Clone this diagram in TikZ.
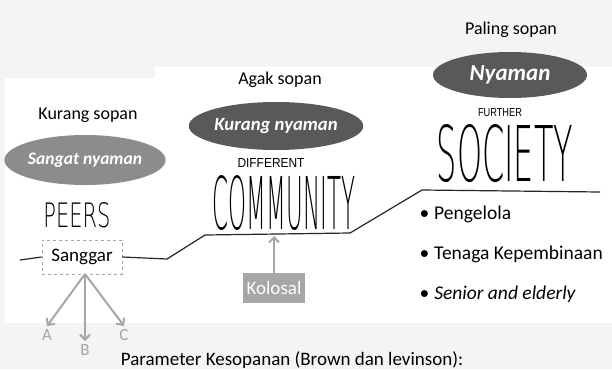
\documentclass[tikz,border=0pt]{standalone}
\usepackage{fontspec}
\setmainfont{Carlito}
\IfFontExistsTF{DejaVuSans-ExtraLight.ttf}
  {\newfontfamily\handfont{DejaVuSans-ExtraLight.ttf}}
  {\IfFontExistsTF{lmmonolt10-regular.otf}
    {\newfontfamily\handfont{lmmonolt10-regular.otf}}
    {\newfontfamily\handfont{Liberation Sans}}}
\newfontfamily\smallhand{Liberation Sans}
\usetikzlibrary{shapes.geometric,arrows.meta}
\definecolor{paper}{HTML}{F4F4F4}
\definecolor{softgray}{HTML}{8C8C8C}
\definecolor{darkgray}{HTML}{595959}
\definecolor{lightgray}{HTML}{A6A6A6}
\newcommand{\hand}[3]{\resizebox{#1pt}{#2pt}{\handfont #3}}
\newcommand{\tinyhand}[3]{\resizebox{#1pt}{#2pt}{\smallhand #3}}
\begin{document}
\begin{tikzpicture}
    [x=1pt,y=-1pt,
    mood/.style={ellipse,inner sep=0pt,text=white},
    level/.style={font=\fontsize{18}{20}\selectfont},
    item/.style={anchor=west,font=\fontsize{19.5}{21}\selectfont},
    scribble/.style={inner sep=0pt},
    pointer/.style={lightgray,line width=2pt,-{Straight Barb[length=5pt,width=10pt]}},
    stair/.style={line width=1.2pt,black!85}]
    % background
    \fill[paper] (0,0) rectangle (612,369);
    \fill[white] (5,78) rectangle (155,323);
    \fill[white] (155,67) rectangle (612,323);
    \useasboundingbox (0,0) rectangle (612,369);
    % left: peers
    \node[level] (kurang) at (88,115) {Kurang sopan};
    \node[mood,fill=softgray,minimum width=160pt,minimum height=50pt,
      font=\fontsize{17.5}{19}\selectfont\bfseries\itshape] (sangat) at (85,160) {Sangat nyaman};
    \node[scribble] (peers) at (77,215) {\hand{67}{25}{PEERS}};
    \node[draw=lightgray,dashed,line width=0.8pt,minimum width=80pt,minimum height=34pt,
      font=\fontsize{19}{21}\selectfont] (sanggar) at (82,257) {Sanggar};
    \node[lightgray,font=\fontsize{17}{19}\selectfont] (a) at (47,335) {A};
    \node[lightgray,font=\fontsize{17}{19}\selectfont] (b) at (85,350) {B};
    \node[lightgray,font=\fontsize{17}{19}\selectfont] (c) at (124,335) {C};
    \coordinate (sb) at (85,274);
    \draw[pointer] (sb) -- (a.north);
    \draw[pointer] (sb) -- (b.north);
    \draw[pointer] (sb) -- (c.north);
    % middle: community
    \node[level] (agak) at (280,80) {Agak sopan};
    \node[mood,fill=darkgray,minimum width=162pt,minimum height=48pt,
      font=\fontsize{18.7}{20}\selectfont\bfseries\itshape] (kurangny) at (276,126) {Kurang nyaman};
    \node[scribble] (different) at (271,163) {\tinyhand{67}{9}{DIFFERENT}};
    \node[scribble] (community) at (284,203) {\hand{142}{54}{COMMUNITY}};
    \node[fill=lightgray,text=white,minimum width=62pt,minimum height=30pt,
      font=\fontsize{19}{21}\selectfont] (kolosal) at (274,288) {Kolosal};
    \coordinate (cbase) at (274,236);
    \draw[pointer] (kolosal.north) -- (cbase);
    % right: society
    \node[level] (paling) at (511,30) {Paling sopan};
    \node[mood,fill=darkgray,minimum width=154pt,minimum height=46pt,
      font=\fontsize{23}{25}\selectfont\bfseries\itshape] (nyaman) at (510,75) {Nyaman};
    \node[scribble] (further) at (500,113) {\tinyhand{44}{8}{FURTHER}};
    \node[scribble] (society) at (505,154) {\hand{136}{57}{SOCIETY}};
    \node[item] (p1) at (416,214) {\textbullet\hspace{5pt}Pengelola};
    \node[item] (p2) at (416,254) {\textbullet\hspace{5pt}Tenaga Kepembinaan};
    \node[item] (p3) at (416,294) {\textbullet\hspace{5pt}\textit{Senior and elderly}};
    % the steps
    \coordinate (l0) at (20,260);
    \coordinate (l1) at (167,259);
    \coordinate (l2) at (205,235);
    \coordinate (l3) at (350,233);
    \coordinate (l4) at (422,190);
    \coordinate (l5) at (600,192);
    \draw[stair] (l0) -- (sanggar.west);
    \draw[stair] (sanggar.east) -- (l1) -- (l2) -- (l3) -- (l4) -- (l5);
    \node[font=\fontsize{19}{21}\selectfont] (param) at (292,360) {Parameter Kesopanan (Brown dan levinson):};
\end{tikzpicture}
\end{document}
